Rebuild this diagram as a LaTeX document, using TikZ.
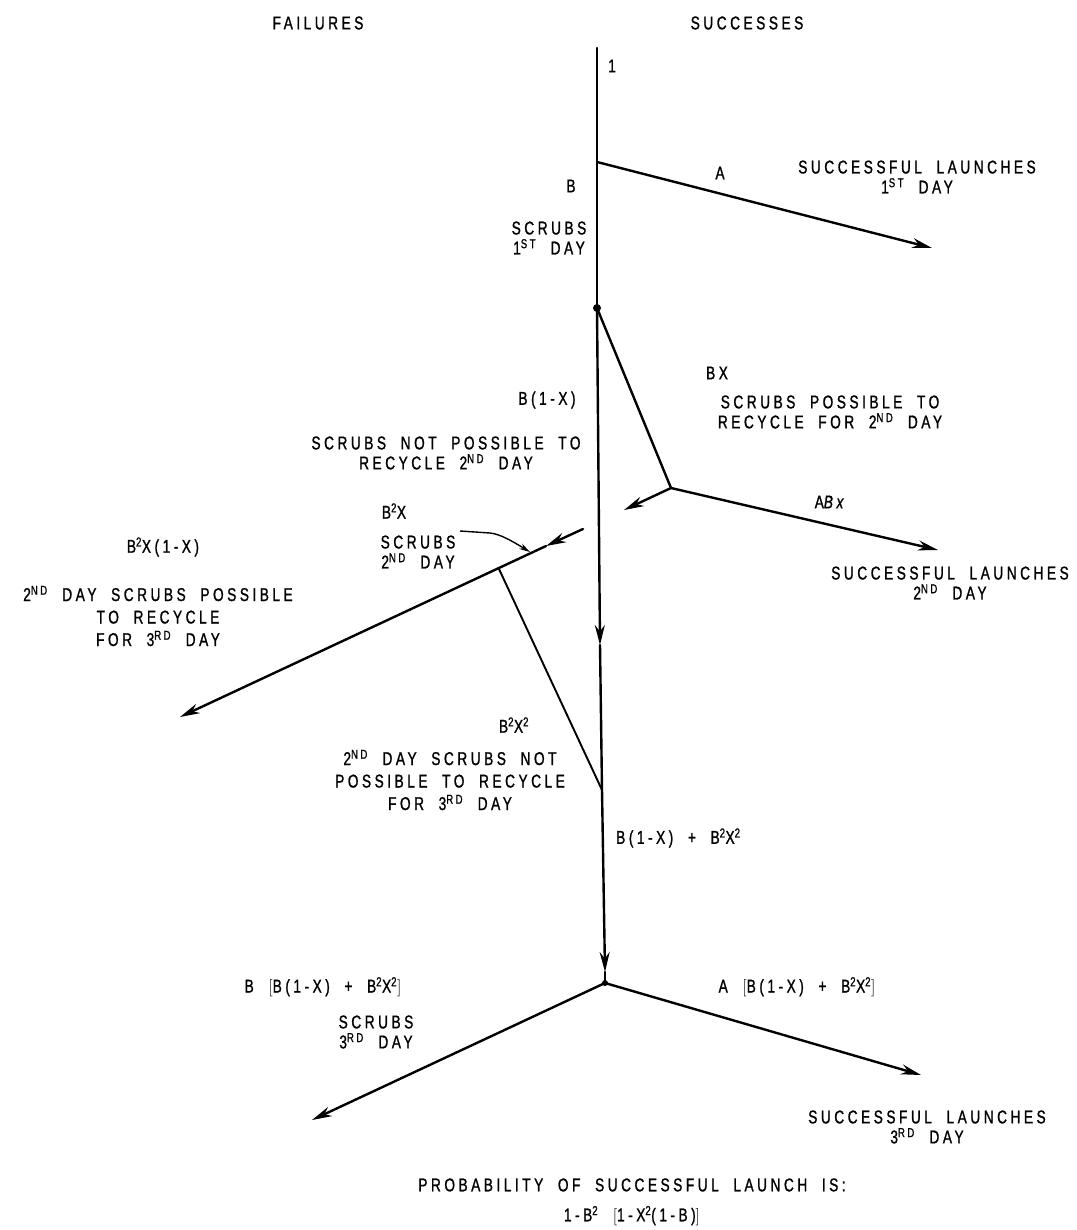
\documentclass[tikz,border=0pt]{standalone}
\usepackage{fontspec}
\setmainfont{Liberation Sans}[FakeStretch=0.74,LetterSpace=19,WordSpace=2.0,FakeBold=1.1]
\usetikzlibrary{arrows.meta}
\newcommand\supr[1]{\textsuperscript{#1}}
\begin{document}
\begin{tikzpicture}[x=1pt,y=-1pt,
  ln/.style={line width=2.4pt, line cap=round},
  thinln/.style={line width=1.9pt, line cap=round},
  arr/.style={ln,-{Stealth[length=20pt,width=10pt]}},
  leader/.style={line width=1.4pt,-{Stealth[length=11pt,width=6pt]}},
  lab/.style={inner sep=0pt, font=\fontsize{18.5}{20}\selectfont, align=center},
  lab3/.style={lab, font=\fontsize{18.5}{22.5}\selectfont},
  dot/.style={circle, fill, inner sep=0pt, minimum size=8pt}
]
\useasboundingbox (0,0) rectangle (1076,1230);
% junction coordinates
\coordinate (top) at (597,48);
\coordinate (br1) at (597,162);
\node[dot] (d1) at (597,308) {};
\coordinate (endA) at (932,248);
\coordinate (j2) at (671,488);
\coordinate (f2a) at (624,510);
\coordinate (f2b) at (583,529);
\coordinate (f2c) at (546,546);
\coordinate (j3) at (499,569);
\coordinate (endF2) at (180,717);
\coordinate (endS2) at (938,550);
\coordinate (m1) at (600,645);
\coordinate (meet) at (602,790);
\coordinate (m2) at (605,972);
\node[dot, minimum size=6pt] (j4) at (605,983) {};
\coordinate (endF3) at (312,1120);
\coordinate (endS3) at (921,1075);
% lines
\draw[ln] (top) -- (br1) -- (d1.center);
\draw[arr] (br1) -- (endA);
\draw[arr] (d1.center) -- (m1);
\draw[ln] (m1) -- (meet);
\draw[arr] (meet) -- (m2);
\draw[ln] (m2) -- (j4.center);
\draw[ln] (d1.center) -- (j2);
\draw[arr] (j2) -- (f2a);
\draw[arr] (j2) -- (endS2);
\draw[arr] (f2b) -- (f2c);
\draw[arr] (f2c) -- (endF2);
\draw[thinln] (j3) -- (meet);
\draw[arr] (j4.center) -- (endF3);
\draw[arr] (j4.center) -- (endS3);
% labels
\node[lab] (fail) at (318,23) {FAILURES};
\node[lab] (succ) at (747,23) {SUCCESSES};
\node[lab] (one) at (612,66) {1};
\node[lab] (lB) at (571,186) {B};
\node[lab] (lA) at (720,173) {A};
\node[lab] (s1) at (917,177) {SUCCESSFUL LAUNCHES\\1\supr{ST} DAY};
\node[lab] (sc1) at (549,238) {SCRUBS\\1\supr{ST} DAY};
\node[lab] (lBX) at (717,373) {BX};
\node[lab] (s2a) at (830,412) {SCRUBS POSSIBLE TO\\RECYCLE FOR 2\supr{ND} DAY};
\node[lab] (lB1X) at (547,400) {B(1-X)};
\node[lab] (s2b) at (446,453) {SCRUBS NOT POSSIBLE TO\\RECYCLE 2\supr{ND} DAY};
\node[lab] (lABx) at (831,502) {A\textit{Bx}};
\node[lab] (s2c) at (950,583) {SUCCESSFUL LAUNCHES\\2\supr{ND} DAY};
\node[lab] (lB2X) at (394,511) {B\supr{2}X};
\node[lab] (sc2) at (418,552) {SCRUBS\\2\supr{ND} DAY};
\node[lab] (lB2X1X) at (163,547) {B\supr{2}X(1-X)};
\node[lab3] (s3a) at (158,616) {2\supr{ND} DAY SCRUBS POSSIBLE\\TO RECYCLE\\FOR 3\supr{RD} DAY};
\node[lab] (lB2X2) at (514,725) {B\supr{2}X\supr{2}};
\node[lab3] (s3b) at (450,780) {2\supr{ND} DAY SCRUBS NOT\\POSSIBLE TO RECYCLE\\FOR 3\supr{RD} DAY};
\node[lab, anchor=west] (lsum) at (616,838) {B(1-X) + B\supr{2}X\supr{2}};
\node[lab] (lBsum) at (323,987) {B $\big[$B(1-X) + B\supr{2}X\supr{2}$\big]$};
\node[lab] (sc3) at (376,1032) {SCRUBS\\3\supr{RD} DAY};
\node[lab] (lAsum) at (797,987) {A $\big[$B(1-X) + B\supr{2}X\supr{2}$\big]$};
\node[lab] (s3c) at (927,1127) {SUCCESSFUL LAUNCHES\\3\supr{RD} DAY};
\node[lab, font=\fontsize{18.5}{30}\selectfont] (prob) at (632,1202) {PROBABILITY OF SUCCESSFUL LAUNCH IS:\\1-B\supr{2} $\big[$1-X\supr{2}(1-B)$\big]$};
% leader arrow
\coordinate (ld0) at (460,531);
\coordinate (ld1) at (490,533);
\coordinate (ldt) at (530,552);
\draw[leader] (ld0) -- (ld1) .. controls (500,534) and (512,541) .. (ldt);
\end{tikzpicture}
\end{document}
